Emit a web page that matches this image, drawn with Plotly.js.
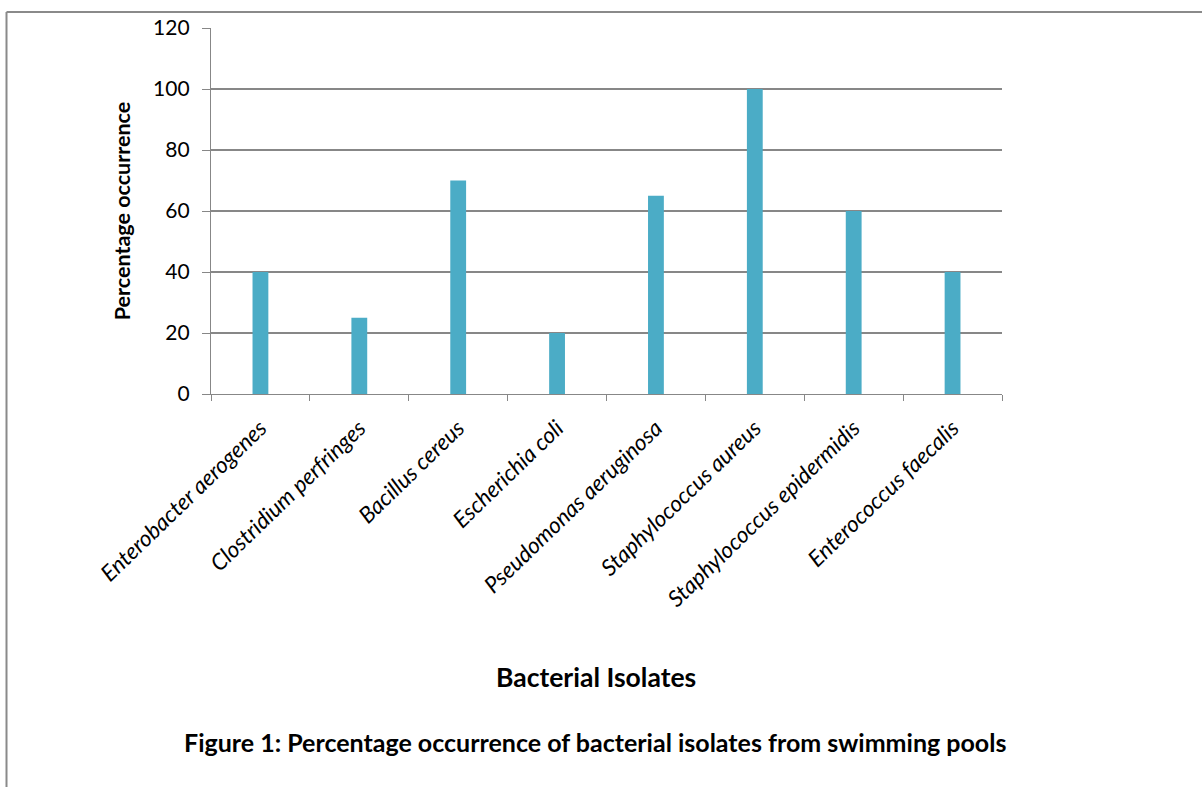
<!DOCTYPE html>
<html>
<head>
<meta charset="utf-8">
<script src="https://cdn.plot.ly/plotly-3.0.1.min.js"></script>
<style>
html,body{margin:0;padding:0;background:#fff;}
#chart{width:1202px;height:787px;}
</style>
</head>
<body>
<div id="chart"></div>
<script>
const categories = [
  "Enterobacter aerogenes",
  "Clostridium perfringes",
  "Bacillus cereus",
  "Escherichia coli",
  "Pseudomonas aeruginosa",
  "Staphylococcus aureus",
  "Staphylococcus epidermidis",
  "Enterococcus faecalis"
];
const percentOccurrence = [40, 25, 70, 20, 65, 100, 60, 40];
const yTickValues = [0, 20, 40, 60, 80, 100, 120];

const FONT = "Lato, 'Open Sans', sans-serif";
const GRID = "#878787";

const trace = {
  type: "bar",
  x: categories,
  y: percentOccurrence,
  width: 0.16,
  marker: {color: "#4BACC6", line: {width: 0}},
  hoverinfo: "x+y"
};

const L = 211, R = 1002, T = 28, B = 394, W = 1202, H = 787;
const px = v => (v - L) / (R - L);
const py = v => (B - v) / (B - T);

const layout = {
  width: W, height: H,
  margin: {l: L, r: W - R, t: T, b: H - B, pad: 0},
  paper_bgcolor: "#ffffff",
  plot_bgcolor: "#ffffff",
  showlegend: false,
  font: {family: FONT, color: "#000000"},
  xaxis: {
    type: "category",
    showgrid: false,
    showline: true,
    linecolor: GRID,
    linewidth: 1.2,
    ticks: "outside",
    tickson: "boundaries",
    ticklen: 6,
    tickcolor: GRID,
    tickangle: -44,
    ticklabelstandoff: 11,
    tickfont: {family: FONT, size: 22.5, style: "italic", color: "#000"},
    automargin: false,
    zeroline: false
  },
  yaxis: {
    range: [0, 120],
    tickvals: yTickValues,
    showgrid: true,
    gridcolor: GRID,
    gridwidth: 1.2,
    showline: true,
    linecolor: GRID,
    linewidth: 1.2,
    ticks: "outside",
    ticklen: 8,
    tickcolor: GRID,
    ticklabelstandoff: 8,
    tickfont: {family: FONT, size: 21, color: "#000"},
    zeroline: false,
    automargin: false,
    title: {text: "<b>Percentage occurrence</b>", font: {family: FONT, size: 21.5, color: "#000"}, standoff: 16}
  },
  annotations: [
    {xref: "paper", yref: "paper", x: px(596), y: py(677), text: "<b>Bacterial Isolates</b>",
     showarrow: false, xanchor: "center", yanchor: "middle", font: {family: FONT, size: 26.5, color: "#000"}},
    {xref: "paper", yref: "paper", x: px(595), y: py(742), text: "<b>Figure 1: Percentage occurrence of bacterial isolates from swimming pools</b>",
     showarrow: false, xanchor: "center", yanchor: "middle", font: {family: FONT, size: 25, color: "#000"}}
  ],
  shapes: [
    {type: "line", xref: "paper", yref: "paper", x0: px(6.5), x1: px(6.5), y0: py(12), y1: py(800), line: {color: "#8a8a8a", width: 2}},
    {type: "line", xref: "paper", yref: "paper", x0: px(6.5), x1: px(1210), y0: py(12), y1: py(12), line: {color: "#8a8a8a", width: 2}}
  ]
};

Plotly.newPlot("chart", [trace], layout, {staticPlot: true, displayModeBar: false});
</script>
</body>
</html>
